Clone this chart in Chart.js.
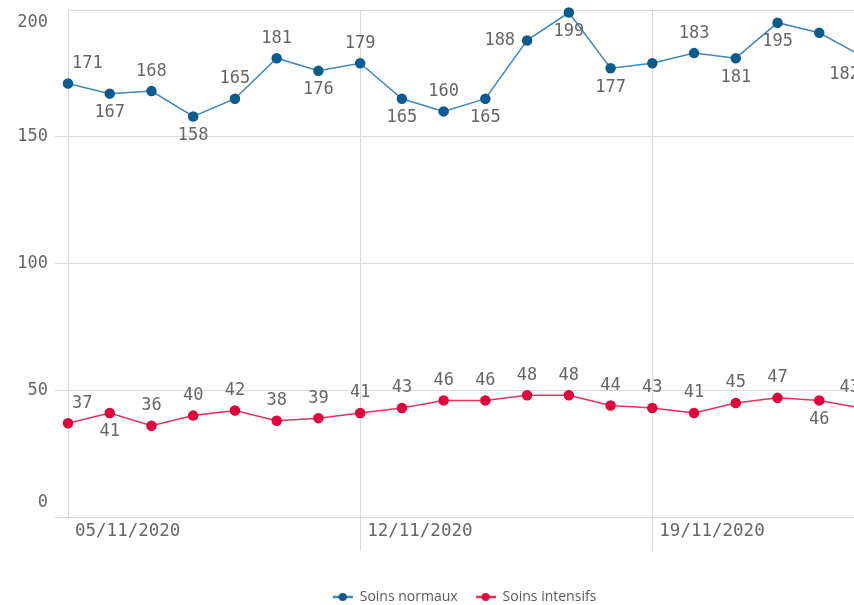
<!DOCTYPE html>
<html lang="fr">
<head>
    <title>Hospitalisations</title>
    <meta charset="utf-8">
    <script src="https://cdn.jsdelivr.net/npm/chart.js@4.4.0/dist/chart.umd.min.js"></script>
</head>
<style>
  html, body {
    margin: 0;
    padding: 0;
    background-color: #fff;
    overflow: hidden;
  }

  #wrap {
    width: 880px;
    height: 614px;
  }
</style>
<body>

  <div id="wrap">
    <canvas id="myChart" width="880" height="614"></canvas>
  </div>

  <script>
    const dates = [
      "05/11/2020", "06/11/2020", "07/11/2020", "08/11/2020", "09/11/2020",
      "10/11/2020", "11/11/2020", "12/11/2020", "13/11/2020", "14/11/2020",
      "15/11/2020", "16/11/2020", "17/11/2020", "18/11/2020", "19/11/2020",
      "20/11/2020", "21/11/2020", "22/11/2020", "23/11/2020", "24/11/2020"
    ];
    const soinsNormaux = [171, 167, 168, 158, 165, 181, 176, 179, 165, 160, 165, 188, 199, 177, 179, 183, 181, 195, 191, 182];
    const soinsIntensifs = [37, 41, 36, 40, 42, 38, 39, 41, 43, 46, 46, 48, 48, 44, 43, 41, 45, 47, 46, 43];
    const yTicks = [0, 50, 100, 150, 200];
    const xTicks = ["05/11/2020", "12/11/2020", "19/11/2020"];

    // where the value label goes : a = above, b = below, l = left, '' = not shown
    const posNormaux = ['a','b','a','b','a','a','b','a','b','a','b','l','b','b','','a','b','b','','b'];
    const posIntensifs = ['a','b','a','a','a','a','a','a','a','a','a','a','a','a','a','a','a','a','b','a'];

    const gridColor = '#d9d9d9';
    const textColor = '#666666';
    const monoFont = '17px "DejaVu Sans Mono", monospace';

    function makeMarker(lineColor, dotColor) {
      const c = document.createElement('canvas');
      c.width = 20;
      c.height = 10;
      const g = c.getContext('2d');
      g.strokeStyle = lineColor;
      g.lineWidth = 2.5;
      g.beginPath();
      g.moveTo(0, 5);
      g.lineTo(20, 5);
      g.stroke();
      g.fillStyle = dotColor;
      g.beginPath();
      g.arc(10, 5, 4, 0, Math.PI * 2);
      g.fill();
      return c;
    }

    const textPlugin = {
      id: 'textPlugin',
      afterDraw(chart) {
        const ctx = chart.ctx;
        const area = chart.chartArea;
        const xs = chart.scales.x;
        const ys = chart.scales.y;
        ctx.save();
        ctx.font = monoFont;
        ctx.fillStyle = textColor;

        // y axis labels, kept inside the plot at both ends
        ctx.textAlign = 'right';
        ctx.textBaseline = 'middle';
        yTicks.forEach(v => {
          let py = ys.getPixelForValue(v);
          py = Math.max(area.top + 13, Math.min(area.bottom - 14, py));
          ctx.fillText(String(v), 48, py);
        });

        // x axis labels, right of their grid line
        ctx.font = '17.5px "DejaVu Sans Mono", monospace';
        ctx.textAlign = 'left';
        xTicks.forEach(d => {
          const px = xs.getPixelForValue(dates.indexOf(d));
          ctx.fillText(d, px + 7, area.bottom + 14);
        });

        // value labels
        ctx.font = monoFont;
        const posList = [posNormaux, posIntensifs];
        chart.data.datasets.forEach((ds, di) => {
          const meta = chart.getDatasetMeta(di);
          meta.data.forEach((pt, i) => {
            const pos = posList[di][i];
            if (!pos) return;
            const txt = String(ds.data[i]);
            const w = ctx.measureText(txt).width;
            let cx = pt.x, cy = pt.y;
            if (pos === 'a') cy = pt.y - 20;
            if (pos === 'b') cy = pt.y + 19;
            if (pos === 'l') cx = pt.x - 12 - w / 2;
            cx = Math.max(area.left + 4 + w / 2, Math.min(area.right - 1 - w / 2, cx));
            ctx.textAlign = 'center';
            ctx.fillText(txt, cx, cy);
          });
        });
        ctx.restore();
      }
    };

    new Chart("myChart", {
      type: "line",
      data: {
        labels: dates,
        datasets: [{
          label: "Soins normaux",
          data: soinsNormaux,
          borderColor: "#3f88b9",
          backgroundColor: "#0c5b8e",
          pointBackgroundColor: "#0c5b8e",
          pointBorderColor: "#0c5b8e",
          pointRadius: 4.5,
          borderWidth: 1.5,
          clip: false
        }, {
          label: "Soins intensifs",
          data: soinsIntensifs,
          borderColor: "#e8325e",
          backgroundColor: "#e3003a",
          pointBackgroundColor: "#e3003a",
          pointBorderColor: "#e3003a",
          pointRadius: 4.5,
          borderWidth: 1.5,
          clip: false
        }]
      },
      options: {
        responsive: false,
        animation: false,
        layout: { padding: { top: 10, right: 19, left: 0, bottom: 0 } },
        scales: {
          x: {
            ticks: { display: false },
            border: { display: false },
            grid: {
              color: c => (c.index === 7 || c.index === 14) ? gridColor : 'transparent',
              tickLength: 34
            },
            afterFit: s => { s.height = 55; }
          },
          y: {
            min: 0,
            max: 200,
            ticks: { display: false, stepSize: 50 },
            border: { color: gridColor },
            grid: {
              color: gridColor,
              tickLength: 13,
              tickColor: c => (c.tick && c.tick.value === 200) ? 'transparent' : gridColor
            },
            afterFit: s => { s.width = 68; }
          }
        },
        plugins: {
          tooltip: { enabled: false },
          legend: {
            position: "bottom",
            fullSize: false,
            labels: {
              usePointStyle: true,
              pointStyleWidth: 20,
              color: "#595959",
              padding: 18,
              font: { family: '"Open Sans", sans-serif', size: 14 },
              generateLabels: chart => chart.data.datasets.map((ds, i) => ({
                text: ds.label,
                datasetIndex: i,
                pointStyle: makeMarker(ds.borderColor, ds.pointBackgroundColor),
                fillStyle: 'transparent',
                strokeStyle: 'transparent',
                lineWidth: 0,
                fontColor: "#595959",
                hidden: false
              }))
            }
          }
        }
      },
      plugins: [textPlugin]
    });
  </script>

</body>
</html>
